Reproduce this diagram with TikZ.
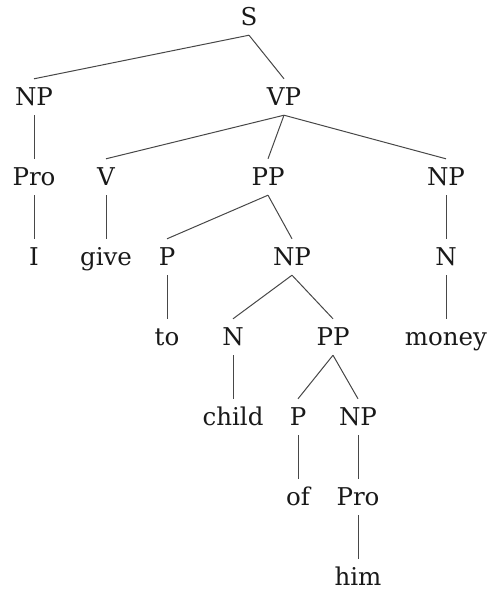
\documentclass[tikz,border=0pt]{standalone}
\usepackage{fontspec}
\setmainfont{DejaVu Serif}
\begin{document}
\begin{tikzpicture}[x=1pt,y=-1pt,
  lbl/.style={anchor=base,inner sep=0pt,text height=26pt,text depth=10pt,
    font=\fontsize{24.5}{28}\selectfont,text=black!90},
  br/.style={draw=black!72,line width=1pt}]
\useasboundingbox (0,0) rectangle (490,592);
% row 0
\node[lbl] (s) at (249,25) {S};
% row 1
\node[lbl] (np1) at (34,105) {NP};
\node[lbl] (vp) at (284,105) {VP};
% row 2
\node[lbl] (pro1) at (34,185) {Pro};
\node[lbl] (v) at (106,185) {V};
\node[lbl] (pp1) at (268,185) {PP};
\node[lbl] (np2) at (446,185) {NP};
% row 3
\node[lbl] (i) at (34,265) {I};
\node[lbl] (give) at (106,265) {give};
\node[lbl] (p1) at (167,265) {P};
\node[lbl] (np3) at (292,265) {NP};
\node[lbl] (n1) at (446,265) {N};
% row 4
\node[lbl] (to) at (167,345) {to};
\node[lbl] (n2) at (233,345) {N};
\node[lbl] (pp2) at (333,345) {PP};
\node[lbl] (money) at (446,345) {money};
% row 5
\node[lbl] (child) at (233,425) {child};
\node[lbl] (p2) at (298,425) {P};
\node[lbl] (np4) at (358,425) {NP};
% row 6
\node[lbl] (of) at (298,505) {of};
\node[lbl] (pro2) at (358,505) {Pro};
% row 7
\node[lbl] (him) at (358,585) {him};
% branches
\draw[br] (s.south) -- (np1.north);
\draw[br] (s.south) -- (vp.north);
\draw[br] (np1.south) -- (pro1.north);
\draw[br] (vp.south) -- (v.north);
\draw[br] (vp.south) -- (pp1.north);
\draw[br] (vp.south) -- (np2.north);
\draw[br] (pro1.south) -- (i.north);
\draw[br] (v.south) -- (give.north);
\draw[br] (pp1.south) -- (p1.north);
\draw[br] (pp1.south) -- (np3.north);
\draw[br] (np2.south) -- (n1.north);
\draw[br] (p1.south) -- (to.north);
\draw[br] (np3.south) -- (n2.north);
\draw[br] (np3.south) -- (pp2.north);
\draw[br] (n1.south) -- (money.north);
\draw[br] (n2.south) -- (child.north);
\draw[br] (pp2.south) -- (p2.north);
\draw[br] (pp2.south) -- (np4.north);
\draw[br] (p2.south) -- (of.north);
\draw[br] (np4.south) -- (pro2.north);
\draw[br] (pro2.south) -- (him.north);
\end{tikzpicture}
\end{document}
